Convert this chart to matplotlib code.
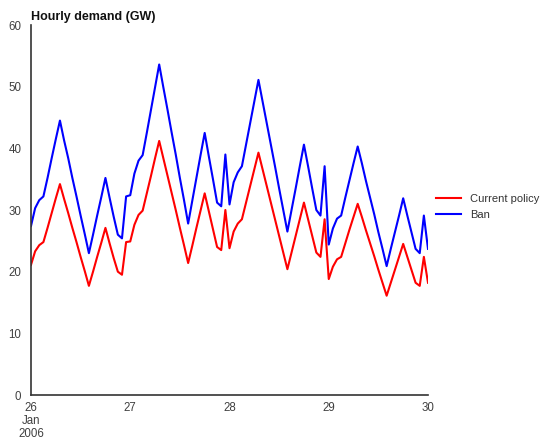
import matplotlib
matplotlib.use("Agg")
import matplotlib.pyplot as plt
import numpy as np

plt.rcParams['font.family'] = ['Liberation Sans', 'DejaVu Sans']

hours = list(range(97))
tick_hours = [0, 24, 48, 72, 96]
tick_labels = ["26\nJan\n2006", "27", "28", "29", "30"]

current_policy = [
    21.1, 23.3, 24.3, 24.8, 27.1, 29.5, 31.9, 34.2, 31.8, 29.5, 27.1, 24.8,
    22.4, 20.1, 17.7, 20.0, 22.4, 24.7, 27.1, 24.6, 22.2, 20.0, 19.5, 24.8,
    24.9, 27.6, 29.2, 29.9, 32.7, 35.5, 38.4, 41.2, 38.4, 35.6, 32.8, 30.0,
    27.1, 24.3, 21.4, 24.2, 27.1, 29.9, 32.7, 29.8, 26.9, 24.0, 23.5, 30.0,
    23.8, 26.5, 27.8, 28.5, 31.2, 33.9, 36.6, 39.3, 36.6, 33.9, 31.2, 28.5,
    25.8, 23.1, 20.4, 23.1, 25.8, 28.5, 31.2, 28.5, 25.8, 23.1, 22.4, 28.5,
    18.8, 20.8, 22.0, 22.4, 24.6, 26.8, 28.9, 31.0, 28.9, 26.7, 24.6, 22.5,
    20.3, 18.2, 16.1, 18.2, 20.3, 22.4, 24.5, 22.4, 20.3, 18.2, 17.7, 22.4,
    18.2,
]
ban = [
    27.4, 30.3, 31.6, 32.2, 35.2, 38.4, 41.5, 44.5, 41.3, 38.4, 35.2, 32.2,
    29.1, 26.1, 23.0, 26.0, 29.1, 32.1, 35.2, 32.0, 28.9, 26.0, 25.4, 32.2,
    32.4, 35.9, 38.0, 38.9, 42.5, 46.2, 49.9, 53.6, 49.9, 46.3, 42.6, 39.0,
    35.2, 31.6, 27.8, 31.5, 35.2, 38.9, 42.5, 38.7, 35.0, 31.2, 30.6, 39.0,
    30.9, 34.5, 36.1, 37.1, 40.6, 44.1, 47.6, 51.1, 47.6, 44.1, 40.6, 37.1,
    33.5, 30.0, 26.5, 30.0, 33.5, 37.1, 40.6, 37.1, 33.5, 30.0, 29.1, 37.1,
    24.4, 27.0, 28.6, 29.1, 32.0, 34.8, 37.6, 40.3, 37.6, 34.7, 32.0, 29.3,
    26.4, 23.7, 20.9, 23.7, 26.4, 29.1, 31.9, 29.1, 26.4, 23.7, 23.0, 29.1,
    23.7,
]
series_names = ["Current policy", "Ban"]
series_colors = ["#ff0000", "#0000ff"]

fig = plt.figure(figsize=(5.43, 4.42), dpi=100)
ax = fig.add_axes([31/543, 1-395/442, (428-31)/543, 370/442])

for vals, name, col in zip([current_policy, ban], series_names, series_colors):
    ax.plot(hours, vals, color=col, lw=1.5, label=name)

ax.set_xlim(0, 96)
ax.set_ylim(0, 60)
ax.set_yticks([0, 10, 20, 30, 40, 50, 60])
ax.set_xticks(tick_hours)
ax.set_xticklabels(tick_labels, linespacing=1.12)
for s in ["top", "right"]:
    ax.spines[s].set_visible(False)
for s in ["left", "bottom"]:
    ax.spines[s].set_color("#333333")
    ax.spines[s].set_linewidth(1.2)
ax.tick_params(length=0, labelsize=8.3, colors="#404040", pad=5)
ax.tick_params(axis='y', pad=7)

fig.text(31/543, 1-17/442, "Hourly demand (GW)", fontsize=9, fontweight="bold",
         ha="left", va="center", color="#111111")

leg = ax.legend(loc="upper left", bbox_to_anchor=(1.010, 0.555), frameon=False,
                fontsize=8, handlelength=2.2, handletextpad=0.8, labelspacing=0.5,
                borderaxespad=0)
for t in leg.get_texts():
    t.set_color("#333333")

fig.savefig("out.png", dpi=100, facecolor="white")
